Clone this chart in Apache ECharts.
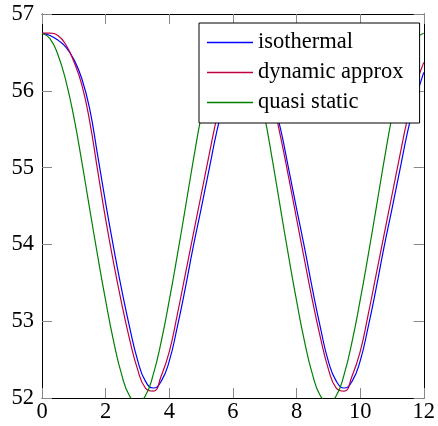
<!DOCTYPE html>
<html>
<head>
<meta charset="utf-8">
<script src="https://cdn.jsdelivr.net/npm/echarts@6/dist/echarts.min.js"></script>
<style>
html,body{margin:0;padding:0;background:#fff;}
#chart{width:438px;height:426px;}
</style>
</head>
<body>
<div id="chart"></div>
<script>
var seriesNames = ['isothermal', 'dynamic approx', 'quasi static'];
var xValues = [0,0.25,0.5,0.75,1,1.25,1.5,1.75,2,2.25,2.5,2.75,3,3.25,3.5,3.75,4,4.25,4.5,4.75,5,5.25,5.5,5.75,6,6.25,6.5,6.75,7,7.25,7.5,7.75,8,8.25,8.5,8.75,9,9.25,9.5,9.75,10,10.25,10.5,10.75,11,11.25,11.5,11.75,12];
var isothermal = [56.75,56.72,56.66,56.57,56.41,56.16,55.76,55.16,54.54,53.96,53.42,52.93,52.50,52.22,52.13,52.22,52.48,52.92,53.42,53.96,54.46,54.97,55.48,55.90,56.24,56.48,56.56,56.48,56.24,55.90,55.50,54.99,54.47,53.96,53.42,52.92,52.48,52.22,52.13,52.22,52.48,52.92,53.42,53.96,54.46,54.97,55.48,55.90,56.24];
var dynamicApprox = [56.75,56.75,56.72,56.60,56.38,56.08,55.60,54.96,54.33,53.76,53.24,52.77,52.38,52.13,52.09,52.29,52.60,53.08,53.60,54.12,54.64,55.16,55.66,56.07,56.37,56.54,56.57,56.47,56.24,55.87,55.40,54.88,54.34,53.80,53.27,52.79,52.38,52.13,52.09,52.29,52.60,53.08,53.60,54.12,54.64,55.16,55.66,56.07,56.37];
var quasiStatic = [56.75,56.68,56.47,56.13,55.66,55.08,54.46,53.85,53.27,52.74,52.31,52.03,51.95,52.03,52.31,52.74,53.27,53.85,54.46,55.08,55.66,56.13,56.47,56.68,56.75,56.68,56.47,56.13,55.66,55.08,54.46,53.85,53.27,52.74,52.31,52.03,51.95,52.03,52.31,52.74,53.27,53.85,54.46,55.08,55.66,56.13,56.47,56.68,56.75];
var xTicks = [0,2,4,6,8,10,12];
var yTicks = [52,53,54,55,56,57];
var colors = ['#0000ff', '#bf0040', '#008000'];

function pairs(ys){ return xValues.map(function(x,i){ return [x, ys[i]]; }); }

var font = 'Liberation Serif';
var axisCommon = {
  type: 'value',
  axisLine: {show: true, onZero: false, lineStyle: {color: '#000', width: 1}},
  axisTick: {show: true, inside: true, length: 10, lineStyle: {color: '#888', width: 1}},
  splitLine: {show: false}
};

var chart = echarts.init(document.getElementById('chart'), null, {renderer: 'canvas'});
chart.setOption({
  animation: false,
  backgroundColor: '#fff',
  grid: {left: 42, right: 12, top: 14, bottom: 28, containLabel: false},
  xAxis: [
    Object.assign({}, axisCommon, {position: 'bottom', min: xTicks[0], max: xTicks[xTicks.length-1], interval: 2,
      axisLabel: {show: true, margin: 3, color: '#000', fontFamily: font, fontSize: 22.5}}),
    Object.assign({}, axisCommon, {position: 'top', min: xTicks[0], max: xTicks[xTicks.length-1], interval: 2,
      axisLabel: {show: false}})
  ],
  yAxis: [
    Object.assign({}, axisCommon, {position: 'left', min: yTicks[0], max: yTicks[yTicks.length-1], interval: 1,
      axisLabel: {show: true, margin: 8, color: '#000', fontFamily: font, fontSize: 22.5}}),
    Object.assign({}, axisCommon, {position: 'right', min: yTicks[0], max: yTicks[yTicks.length-1], interval: 1,
      axisLabel: {show: false}})
  ],
  legend: {
    orient: 'vertical',
    left: 199, top: 23,
    padding: [8, 16, 9, 8],
    itemGap: 7,
    itemWidth: 46,
    itemHeight: 1.3,
    icon: 'rect',
    backgroundColor: '#fff',
    borderColor: '#000',
    borderWidth: 1,
    textStyle: {fontFamily: font, fontSize: 22.5, color: '#000', lineHeight: 22},
    data: seriesNames
  },
  series: [
    {name: seriesNames[0], type: 'line', data: pairs(isothermal), smooth: true, symbol: 'none', lineStyle: {color: colors[0], width: 1.2}, itemStyle: {color: colors[0]}},
    {name: seriesNames[1], type: 'line', data: pairs(dynamicApprox), smooth: true, symbol: 'none', lineStyle: {color: colors[1], width: 1.2}, itemStyle: {color: colors[1]}},
    {name: seriesNames[2], type: 'line', data: pairs(quasiStatic), smooth: true, symbol: 'none', lineStyle: {color: colors[2], width: 1.2}, itemStyle: {color: colors[2]}}
  ]
});
</script>
</body>
</html>
